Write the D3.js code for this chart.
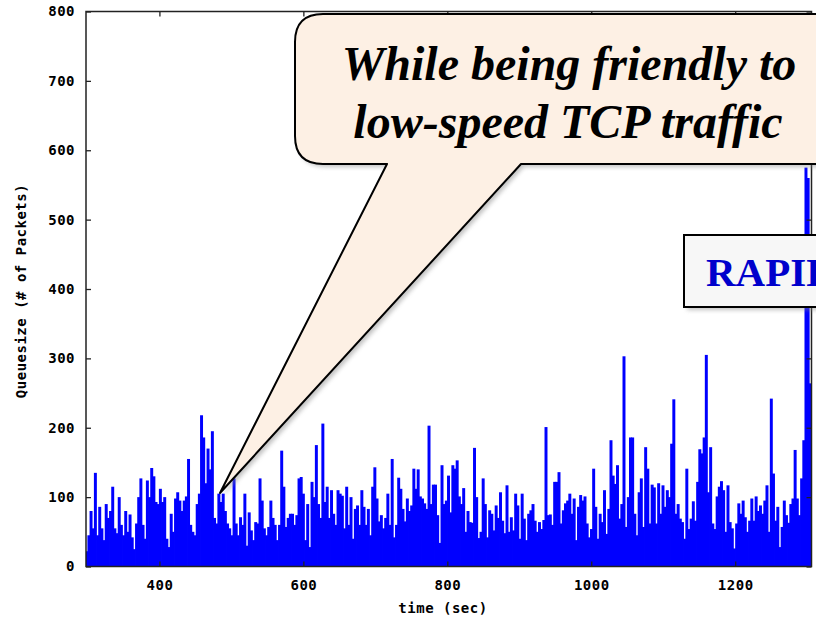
<!DOCTYPE html>
<html>
<head>
<meta charset="utf-8">
<script src="https://cdn.jsdelivr.net/npm/d3@7"></script>
<style>
  body { margin: 0; background: #fff; }
  .axis text {
    font-family: "DejaVu Sans Mono", monospace;
    font-weight: bold;
    font-size: 14px;
    fill: #000;
    letter-spacing: 0.5px;
  }
  .axis line { stroke: #222; stroke-width: 1.3; }
</style>
</head>
<body>
<svg width="816" height="618"></svg>
<script>
// queue size samples, one every ~3 s, starting at t = 299 s
const sampleStart = 299;
const sampleStep = 3.01;

const queue300s = [22,45,80,55,135,45,86,55,38,90, 70,80,115,55,48,100,60,45,80,50,
  75,42,25,62,100,127,60,40,124,100, 142,130,93,90,112,93,100,40,28,76,
  50,98,107,95,80,95,101,155,60,50, 45,90,105,218,186,120,170,140,195,70,
  62,105,93,105,80,62,55,45];
const queue500s = [127,62,45,71,60,105,30,78,52,38, 64,62,127,95,55,45,57,95,70,60,
  38,60,167,115,57,70,76,76,60,74, 127,129,105,38,90,28,122,100,175,90,
  70,206,93,115,70,110,76,60,110,105, 102,55,115,60,100,40,83,88,60,110,
  86,60,83,45,115,143];
const queue700s = [98,65,74,55,70,105,60,155,42,60, 128,112,83,65,98,80,88,141,112,140,
  101,98,91,83,203,90,118,118,74,34, 146,90,95,131,78,146,141,153,101,90,
  113,50,80,64,63,171,100,41,50,127, 90,42,81,76,52,88,70,107,66,48,
  117,50,71,52,105];
const queue900s = [88,40,105,69,38,76,81,90,66,50, 64,54,67,201,74,75,60,122,122,136,
  62,81,91,95,105,76,98,38,86,103, 95,101,62,42,54,141,86,40,76,64,
  110,47,83,182,131,119,146,69,90,303, 57,100,186,186,76,45,107,127,57,172,
  141,62,118,114,62,120,76];
const queue1100s = [117,86,110,100,177,241,76,90,69,64, 40,141,54,69,94,66,122,169,163,186,
  305,107,172,62,54,101,115,123,110,50, 117,64,55,26,62,91,76,95,71,50,
  66,98,66,101,80,88,76,95,117,50, 242,134,66,86,28,57,95,74,63,90,
  98,168,98,74,127,182,575,560,264];

const xTicks = [400, 600, 800, 1000, 1200];
const yTicks = [0, 100, 200, 300, 400, 500, 600, 700, 800];

const queue = [].concat(queue300s, queue500s, queue700s, queue900s, queue1100s)
  .map((v, i) => ({ t: sampleStart + i * sampleStep, v: v }));

const svg = d3.select("svg");

const x = d3.scaleLinear().domain([298, 1306]).range([86, 811.5]);
const y = d3.scaleLinear().domain([0, 800]).range([566.5, 11.5]);

svg.append("clipPath").attr("id", "plotclip")
  .append("rect").attr("x", 86).attr("y", 11.5).attr("width", 725.5).attr("height", 555);

// impulses (slightly overlapped so the base reads as a solid fill)
const barW = x(sampleStart + sampleStep) - x(sampleStart);
svg.append("g")
  .attr("clip-path", "url(#plotclip)")
  .selectAll("rect")
  .data(queue)
  .enter()
  .append("rect")
  .attr("x", d => x(d.t) - barW / 2 - 0.4)
  .attr("width", barW + 0.8)
  .attr("y", d => y(d.v))
  .attr("height", d => y(0) - y(d.v))
  .attr("fill", "#0000ff");

// axes, gnuplot style: ticks point inward, labels only left/bottom
svg.append("g").attr("class", "axis")
  .attr("transform", "translate(86,0)")
  .call(d3.axisLeft(y).tickValues(yTicks).tickSize(-5).tickPadding(11).tickSizeOuter(0));
svg.append("g").attr("class", "axis")
  .attr("transform", "translate(811.5,0)")
  .call(d3.axisRight(y).tickValues(yTicks).tickSize(-5).tickFormat("").tickSizeOuter(0));
svg.append("g").attr("class", "axis")
  .attr("transform", "translate(0,566.5)")
  .call(d3.axisBottom(x).tickValues(xTicks).tickSize(-5).tickPadding(14)
    .tickFormat(d3.format("d")).tickSizeOuter(0));
svg.append("g").attr("class", "axis")
  .attr("transform", "translate(0,11.5)")
  .call(d3.axisTop(x).tickValues(xTicks).tickSize(-5).tickFormat("").tickSizeOuter(0));
svg.selectAll(".axis .domain").remove();

svg.append("rect")
  .attr("x", 86).attr("y", 11.5).attr("width", 725.5).attr("height", 555)
  .attr("fill", "none").attr("stroke", "#222").attr("stroke-width", 1.5);

svg.append("text")
  .attr("x", 443).attr("y", 613)
  .attr("text-anchor", "middle")
  .style("font-family", "'DejaVu Sans Mono', monospace")
  .style("font-weight", "bold").style("font-size", "14px").style("letter-spacing", "0.5px")
  .text("time (sec)");

svg.append("text")
  .attr("transform", "translate(26,291) rotate(-90)")
  .attr("text-anchor", "middle")
  .style("font-family", "'DejaVu Sans Mono', monospace")
  .style("font-weight", "bold").style("font-size", "14px").style("letter-spacing", "0.5px")
  .text("Queuesize (# of Packets)");

// callout bubble
const defs = svg.append("defs");
defs.append("filter").attr("id", "soft")
  .append("feGaussianBlur").attr("stdDeviation", 2);

const L = 295, T = 14, R = 850, B = 164, r = 28;
const bubble = `M${L + r},${T} H${R - r} Q${R},${T} ${R},${T + r} V${B - r} Q${R},${B} ${R - r},${B}
  H521 L220,493 L387,${B} H${L + r} Q${L},${B} ${L},${B - r} V${T + r} Q${L},${T} ${L + r},${T} Z`;

svg.append("path").attr("d", bubble)
  .attr("transform", "translate(3,3)")
  .attr("fill", "#888").attr("opacity", 0.5).attr("filter", "url(#soft)");
svg.append("path").attr("d", bubble)
  .attr("fill", "#fdf0e4").attr("stroke", "#000").attr("stroke-width", 2)
  .attr("stroke-linejoin", "round");

const callout = svg.append("g")
  .style("font-family", "'Liberation Serif', 'Times New Roman', serif")
  .style("font-weight", "bold").style("font-style", "italic")
  .style("font-size", "48px")
  .attr("text-anchor", "middle").attr("fill", "#000");
callout.append("text").attr("x", 569).attr("y", 80).text("While being friendly to");
callout.append("text").attr("x", 568).attr("y", 138).text("low-speed TCP traffic");

// RAPID label box (cut by the right edge, as in the slide)
svg.append("rect")
  .attr("x", 687).attr("y", 238).attr("width", 180).attr("height", 72)
  .attr("fill", "#888").attr("opacity", 0.5).attr("filter", "url(#soft)");
svg.append("rect")
  .attr("x", 684).attr("y", 235).attr("width", 180).attr("height", 72)
  .attr("fill", "#f7f7f7").attr("stroke", "#000").attr("stroke-width", 2);
svg.append("text")
  .attr("x", 706).attr("y", 286)
  .style("font-family", "'Liberation Serif', 'Times New Roman', serif")
  .style("font-weight", "bold").style("font-size", "41px")
  .attr("fill", "#0000cc")
  .text("RAPID");
</script>
</body>
</html>
